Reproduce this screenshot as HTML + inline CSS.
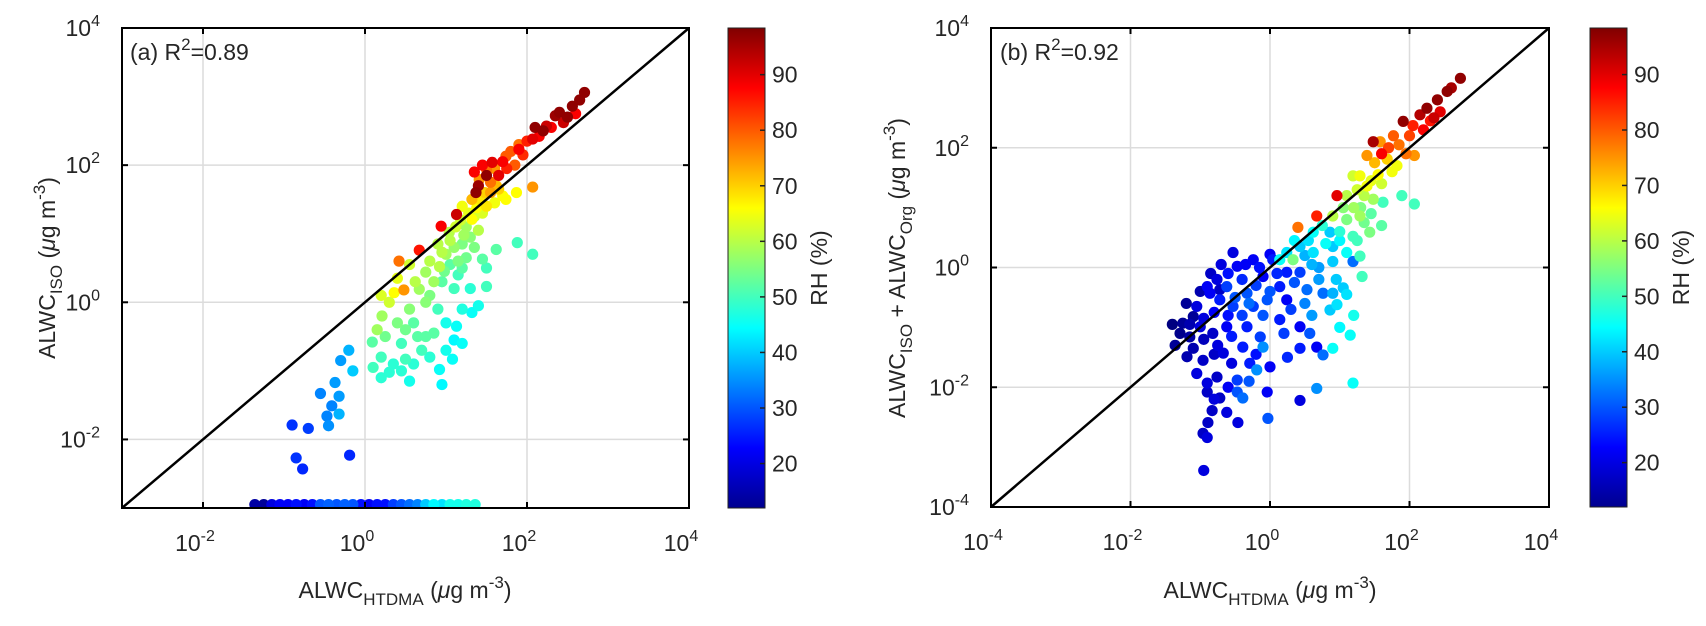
<!DOCTYPE html>
<html><head><meta charset="utf-8"><style>
html,body{margin:0;padding:0;background:#fff;}
svg{display:block;font-family:"Liberation Sans",Arial,sans-serif;}
text{fill:#262626;}
</style></head><body>
<svg id="fig" xmlns="http://www.w3.org/2000/svg" width="1706" height="626" viewBox="0 0 1706 626">
<defs>
<linearGradient id="jet" x1="0" y1="1" x2="0" y2="0">
<stop offset="0" stop-color="#00008f"/><stop offset="0.125" stop-color="#0000ff"/><stop offset="0.375" stop-color="#00ffff"/><stop offset="0.625" stop-color="#ffff00"/><stop offset="0.875" stop-color="#ff0000"/><stop offset="1" stop-color="#800000"/>
</linearGradient>
</defs>
<g id="panelA"></g>
<g id="panelB"></g>
</svg>
<script>
// log10 values: [x, y, RH]
const pointsA = [
[2.71,3.06,97],[2.56,2.86,97],[2.4,2.77,97],[2.24,2.57,92],[2.07,2.38,90],[1.9,2.23,88],[1.74,2.13,80],[1.57,2.04,90],[1.5,1.94,78],[1.41,1.79,75],[1.37,1.6,97],[1.32,1.5,72],
[2.5,2.7,97],[2.6,2.75,88],[2.3,2.55,88],[2.2,2.5,97],[2.0,2.35,85],[1.9,2.3,78],[1.8,2.2,80],[1.7,2.05,88],[1.6,1.95,75],[1.5,1.85,97],[1.45,2.0,88],[1.35,1.9,88],[1.4,1.7,96],[1.55,1.75,78],[1.65,1.65,70],[1.7,1.55,66],[1.6,1.45,65],[1.5,1.4,68],[1.45,1.3,63],[1.35,1.25,62],[1.25,1.1,58],[1.3,0.95,56],[1.2,0.85,55],[1.1,0.8,57],[1.0,0.7,58],[0.9,0.85,60],[1.05,0.55,52],[1.15,0.4,50],[0.95,0.3,52],[0.8,0.1,55],[0.9,-0.1,50],[1.0,-0.3,46],[1.1,-0.55,44],[0.6,-0.3,52],[0.45,-0.6,50],[0.2,-0.8,50],[0.35,-0.9,48],[0.6,-0.9,48],[0.7,-0.7,50],[1.2,-0.1,47],[1.3,0.2,48],[0.85,-0.45,52],
[1.2,1.4,65],[1.32,1.21,66],[1.04,1.02,60],[0.95,0.73,60],[0.92,0.52,60],[0.75,0.44,58],[0.67,0.19,58],[0.3,0,62],[0.21,-0.2,58],[0.09,-0.58,52],[0.3,-1.02,48],[0.5,-0.83,50],[0.75,-0.5,52],[1.08,-0.83,45],[0.92,-0.98,45],[1.13,-0.35,45],[1.32,-0.15,45],[1.5,0.23,50],[1.45,0.63,52],[1.62,0.77,52],[1.88,0.87,50],[2.07,0.7,50],[2.07,1.68,75],[1.74,1.5,66],[1.87,1.6,66],[0.42,0.6,78],[0.67,0.76,86],[0.94,1.11,88],[1.13,1.28,92],[0.48,0.18,75],[0.36,0.14,66],
[2.65,2.95,97],[2.45,2.62,92],[2.35,2.72,96],[2.15,2.42,88],[2.1,2.55,97],[1.95,2.15,84],[1.85,2.0,80],[1.75,1.95,85],[1.65,1.85,90],[1.55,1.6,74],[1.62,1.7,72],[1.48,1.6,70],[1.42,1.5,68],[1.38,1.38,66],[1.28,1.3,64],[1.18,1.2,62],[1.12,1.1,62],[1.22,0.98,58],[1.4,1.05,60],[1.35,0.8,55],[1.25,0.65,54],[1.15,0.6,55],[1.05,0.9,60],[0.98,0.45,54],[1.1,0.2,50],[1.2,0.5,52],[0.85,0.3,58],[0.75,0.0,56],[0.55,-0.1,56],[0.65,-0.5,52],[0.5,-0.4,54],[0.4,-0.3,55],[0.25,-0.5,54],[0.15,-0.4,58],[0.1,-0.95,50],[0.2,-1.1,48],[0.45,-1.0,48],[0.55,-1.15,46],[0.8,-0.8,48],[1.0,-0.7,46],[0.95,-1.2,44],[1.2,-0.6,45],[1.4,-0.05,46],[1.5,0.5,50],[0.4,0.35,64],[0.55,0.55,62],[0.2,0.1,63],[0.62,0.3,60],[0.8,0.6,60],
[-0.37,-1.17,36],[-0.55,-1.33,34],[-0.32,-1.37,36],[-0.41,-1.51,34],[-0.32,-1.63,38],[-0.47,-1.66,34],[-0.45,-1.8,35],[-0.9,-1.79,27],[-0.7,-1.84,28],[-0.85,-2.27,27],[-0.77,-2.43,26],[-0.19,-2.23,26],[-0.2,-0.7,38],[-0.3,-0.85,36],[-0.15,-1.0,40],
[-1.36,-2.95,15],[-1.25,-2.95,14],[-1.15,-2.95,20],[-1.05,-2.95,22],[-0.95,-2.95,22],[-0.85,-2.95,24],[-0.75,-2.95,22],[-0.65,-2.95,24],[-0.55,-2.95,30],[-0.45,-2.95,31],[-0.35,-2.95,30],[-0.25,-2.95,31],[-0.15,-2.95,30],[-0.05,-2.95,24],[0.05,-2.95,22],[0.15,-2.95,24],[0.25,-2.95,24],[0.35,-2.95,28],[0.45,-2.95,30],[0.55,-2.95,32],[0.65,-2.95,34],[0.75,-2.95,40],[0.85,-2.95,44],[0.95,-2.95,42],[1.05,-2.95,46],[1.15,-2.95,46],[1.25,-2.95,47],[1.36,-2.95,47]
];
const pointsB = [
[2.73,3.16,97],[2.54,2.94,97],[2.44,2.6,90],[2.25,2.66,97],[2.05,2.37,85],[1.91,2.44,97],[1.77,2.2,80],[1.58,2.1,75],[1.48,2.1,95],[1.39,1.87,75],[1.68,1.81,70],[1.82,1.7,65],[2.07,1.87,75],[1.29,1.53,65],[1.19,1.53,62],[1.39,1.36,65],[1.1,1.2,60],[0.96,1.2,90],[1.48,1.14,58],[1.89,1.2,50],[2.07,1.06,50],[1.62,1.09,50],[0.67,0.86,85],[0.4,0.67,78],[0.9,0.86,60],[1.1,0.8,55],[1.29,0.86,58],[1.43,0.59,55],[1.19,0.52,50],[0.86,0.59,40],[0.62,0.59,45],[0.43,0.35,40],[0.24,0.25,42],[0.14,0.13,45],[0.33,0.13,55],[0.62,0.25,42],[0.9,0.35,40],[1.1,0.25,45],[1.29,0.19,50],[1.19,0.1,32],[1.32,-0.15,50],[1.05,-0.34,40],[0.9,-0.43,38],[0.96,-0.62,42],[0.86,-0.71,40],[0.76,-0.43,32],[0.53,-0.37,32],[0.43,-0.08,28],[0.24,-0.08,25],[0.04,0.13,25],[0,0.22,22],[-0.24,0.13,22],[-0.53,0.25,20],[-0.47,0.02,22],[-0.76,-0.2,20],[-0.9,-0.32,22],[-0.62,-0.32,28],[-0.33,-0.43,30],[-0.1,-0.15,22],[0.14,-0.32,25],[0.24,-0.54,22],[-0.04,-0.54,30],[-0.24,-0.65,28],[-0.53,-0.65,28],[-0.72,-0.54,25],[-1.05,-0.65,20],[-1.25,-0.93,14],[-1.0,-0.99,20],[-1.15,-1.16,15],[-1.36,-1.3,14],[-1.19,-1.49,16],[-0.82,-1.1,18],[-0.62,-0.99,22],[-0.33,-0.99,25],[-0.14,-1.16,28],[0.14,-0.87,25],[0.43,-0.99,22],[0.57,-1.1,30],[0.67,-1.33,22],[0.76,-1.46,32],[0.43,-1.35,25],[0.9,-1.35,45],[1.15,-1.13,45],[-0.1,-1.33,35],[-0.39,-1.33,25],[-0.67,-1.43,20],[-0.96,-1.55,18],[-1.05,-1.77,20],[-0.76,-1.83,18],[-0.47,-1.88,28],[-0.29,-1.6,25],[0,-1.66,22],[-0.19,-1.71,35],[-0.9,-1.93,20],[-0.9,-2.08,18],[-0.72,-2.18,18],[-0.47,-2.08,30],[-0.39,-2.18,32],[-0.04,-2.08,22],[0.43,-2.22,20],[0.67,-2.02,35],[1.19,-1.93,45],[-0.83,-2.39,18],[-0.62,-2.42,20],[-0.89,-2.59,18],[-0.46,-2.59,20],[-0.03,-2.52,30],[-0.96,-2.77,18],[-0.9,-2.84,20],[-0.95,-3.39,20],[-0.72,-0.37,18],[-0.86,-0.43,22],[-1.1,-0.82,14],[-1.29,-1.1,13],
[-0.6,-0.1,24],[-0.4,-0.2,26],[-0.2,-0.3,28],[0.0,-0.4,30],[-0.5,-0.5,30],[-0.3,-0.6,32],[-0.8,-0.75,22],[-0.6,-0.8,24],[-0.95,-1.2,17],[-0.75,-1.3,20],[-0.55,-1.15,25],[0.3,-0.7,28],[0.5,-0.6,34],[0.7,-0.2,36],[0.9,0.1,40],[0.6,0.05,38],[1.0,0.6,48],[1.3,1.0,55],[1.6,1.4,62],[1.75,1.6,65],[1.95,1.9,78],[2.2,2.3,88],[2.35,2.5,92],[1.45,0.9,52],[1.6,0.7,52],[0.8,0.4,45],
[2.6,3.0,95],[2.4,2.8,97],[2.3,2.45,86],[2.15,2.55,94],[2.0,2.2,82],[1.85,2.05,78],[1.7,2.0,82],[1.6,1.9,88],[1.5,1.75,72],[1.55,1.55,66],[1.45,1.45,64],[1.35,1.2,60],[1.25,1.3,62],[1.2,1.0,58],[1.05,1.0,56],[1.35,0.75,54],[1.25,0.45,50],[1.0,0.45,44],[0.75,0.7,48],[0.55,0.45,42],[0.35,0.45,44],[0.5,0.2,38],[0.7,0.0,36],[0.95,-0.2,40],[1.1,-0.45,42],[0.35,-0.25,30],[0.1,-0.1,26],[-0.15,0.0,24],[-0.35,0.05,22],[-0.7,0.05,20],[-0.85,-0.1,18],[-1.0,-0.4,16],[-1.2,-0.6,14],[-1.4,-0.95,12],[-1.15,-0.95,16],[-0.95,-0.85,20],[-0.4,-0.8,28],[-0.1,-0.8,30],[0.2,-1.1,28],[-0.2,-1.45,24],[-0.55,-1.6,20],[-0.8,-1.45,18],[-1.1,-1.35,16],[-0.6,-2.0,22],[-0.8,-2.2,20],[-0.3,-1.9,30],[0.25,-1.5,26],[1.0,-1.0,44],[1.2,-0.8,46],[0.6,-0.8,36]
];
const xTickExpA = [-2,0,2,4];
const yTickExpA = [-2,0,2,4];
const xTickExpB = [-4,-2,0,2,4];
const yTickExpB = [-4,-2,0,2,4];
const cbTicks = [20,30,40,50,60,70,80,90];
const cbRange = [12,98.4];

const NS='http://www.w3.org/2000/svg';
function mk(tag,attrs,parent){const e=document.createElementNS(NS,tag);for(const k in attrs)e.setAttribute(k,attrs[k]);parent.appendChild(e);return e;}
function jet(v){let t=(v-cbRange[0])/(cbRange[1]-cbRange[0]);t=Math.max(0,Math.min(1,t));
 const c=x=>Math.round(255*Math.max(0,Math.min(1,x)));
 return 'rgb('+c(1.5-Math.abs(4*t-3))+','+c(1.5-Math.abs(4*t-2))+','+c(1.5-Math.abs(4*t-1))+')';}
function powLabel(parent,x,y,exp,anchor,name){
 const t=mk('text',{x:x,y:y,'font-size':23,'text-anchor':anchor},parent);
 
 
 t.appendChild(document.createTextNode('10'));
 const s=mk('tspan',{dy:-10,'font-size':16},t);s.textContent=String(exp);
 return t;}

function panel(g,cfg){
 const {L,R,T,B,xmin,xmax,ymin,ymax,pts,xt,yt,cbL,label}=cfg;
 const sx=v=>L+(v-xmin)/(xmax-xmin)*(R-L);
 const sy=v=>B-(v-ymin)/(ymax-ymin)*(B-T);
 const grid=mk('g',{},g);
 
 
 xt.forEach(e=>{if(e>xmin&&e<xmax)mk('line',{x1:sx(e),x2:sx(e),y1:T,y2:B,stroke:'#dcdcdc','stroke-width':1.5},grid);});
 yt.forEach(e=>{if(e>ymin&&e<ymax)mk('line',{x1:L,x2:R,y1:sy(e),y2:sy(e),stroke:'#dcdcdc','stroke-width':1.5},grid);});
 const sc=mk('g',{},g);
 
 
 const clipId='clip'+label;
 const cp=mk('clipPath',{id:clipId},g);mk('rect',{x:L,y:T,width:R-L,height:B-T},cp);
 sc.setAttribute('clip-path','url(#'+clipId+')');
 pts.slice().sort((a,b)=>a[2]-b[2]).forEach(p=>{
  const c=mk('circle',{cx:sx(p[0]),cy:sy(p[1]),r:5.6,fill:jet(p[2])},sc);
  
  
 });
 const lo=Math.max(xmin,ymin),hi=Math.min(xmax,ymax);
 const ol=mk('line',{x1:sx(lo),y1:sy(lo),x2:sx(hi),y2:sy(hi),stroke:'#000','stroke-width':2.5},g);
 
 
 const ax=mk('rect',{x:L,y:T,width:R-L,height:B-T,fill:'none',stroke:'#000','stroke-width':2},g);
 
 
 xt.forEach(e=>{const x=sx(e);
  mk('line',{x1:x,x2:x,y1:B,y2:B-6,stroke:'#000','stroke-width':2},g);
  mk('line',{x1:x,x2:x,y1:T,y2:T+6,stroke:'#000','stroke-width':2},g);
  powLabel(g,x-8,B+43,e,'middle','x-tick-label');});
 yt.forEach(e=>{const y=sy(e);
  mk('line',{x1:L,x2:L+6,y1:y,y2:y,stroke:'#000','stroke-width':2},g);
  mk('line',{x1:R,x2:R-6,y1:y,y2:y,stroke:'#000','stroke-width':2},g);
  powLabel(g,L-22,y+8,e,'end','y-tick-label');});
 const cb=mk('g',{},g);
 
 
 const cbR=cbL+37;
 mk('rect',{x:cbL,y:T,width:37,height:B-T,fill:'url(#jet)',stroke:'#222','stroke-width':1},cb);
 const cy=v=>B-(v-cbRange[0])/(cbRange[1]-cbRange[0])*(B-T);
 cbTicks.forEach(v=>{mk('line',{x1:cbR-5,x2:cbR,y1:cy(v),y2:cy(v),stroke:'#222','stroke-width':1.5},cb);
  const t=mk('text',{x:cbR+7,y:cy(v)+8,'font-size':23},cb);t.textContent=v;
  
  });
 const rl=mk('text',{x:0,y:0,'font-size':23,'text-anchor':'middle',transform:'translate('+(cbR+62)+','+((T+B)/2)+') rotate(-90)'},cb);
 rl.textContent='RH (%)';
 
 
 return {sx,sy};
}
const A=document.getElementById('panelA'),Bp=document.getElementById('panelB');
panel(A,{L:122,R:689,T:28,B:508,xmin:-3,xmax:4,ymin:-3,ymax:4,pts:pointsA,xt:xTickExpA,yt:yTickExpA,cbL:728,label:'A'});
panel(Bp,{L:991,R:1549,T:28,B:507,xmin:-4,xmax:4,ymin:-4,ymax:4,pts:pointsB,xt:xTickExpB,yt:yTickExpB,cbL:1590,label:'B'});

function richText(parent,x,y,parts,attrs,name){
 const t=mk('text',Object.assign({x:x,y:y,'font-size':23},attrs),parent);
 
 
 let shift=0;
 parts.forEach(p=>{const s=mk('tspan',{},t);let d=0;
  if(p[1]==='sub'){d=7;s.setAttribute('font-size',17);}else if(p[1]==='sup'){d=-10;s.setAttribute('font-size',17);}
  s.setAttribute('dy',d-shift);shift=d;
  if(p[2])s.setAttribute('font-style','italic');
  s.textContent=p[0];});
 return t;}
const xlab=[['ALWC'],['HTDMA','sub'],[' ('],['μ','',true],['g m'],['-3','sup'],[')']];
richText(A,405,598,xlab,{'text-anchor':'middle'},'x-axis-title');
richText(Bp,1270,598,xlab,{'text-anchor':'middle'},'x-axis-title');
richText(A,0,0,[['ALWC'],['ISO','sub'],[' ('],['μ','',true],['g m'],['-3','sup'],[')']],{'text-anchor':'middle',transform:'translate(55,268) rotate(-90)'},'y-axis-title');
richText(Bp,0,0,[['ALWC'],['ISO','sub'],[' + ALWC'],['Org','sub'],['  ('],['μ','',true],['g m'],['-3','sup'],[')']],{'text-anchor':'middle',transform:'translate(905,268) rotate(-90)'},'y-axis-title');
richText(A,130,60,[['(a)  R'],['2','sup'],['=0.89']],{},'annotation-r2');
richText(Bp,1000,60,[['(b)  R'],['2','sup'],['=0.92']],{},'annotation-r2');
</script>
</body></html>
